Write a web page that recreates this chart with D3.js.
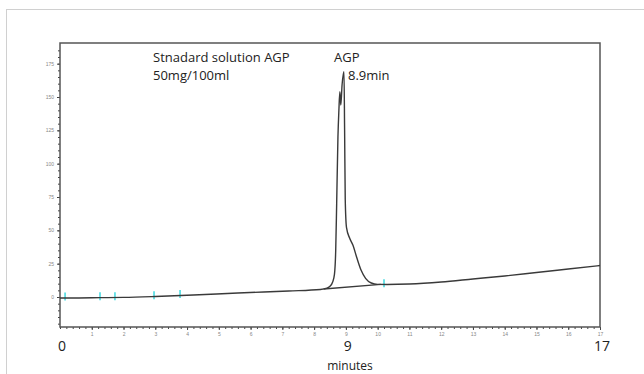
<!DOCTYPE html>
<html lang="en">
<title>AGP chromatogram</title>
<meta charset="UTF-8">
<style>
  body { margin: 0; background: #fff; }
  svg { display: block; font-family: "Open Sans", sans-serif; }
  .frame { fill: none; stroke: #555; stroke-width: 1.5; }
  .trace { fill: none; stroke: #3a3a3a; stroke-width: 1.4; }
  .tick line { stroke: #444; }
  .tick text { fill: #888; font-size: 5px; }
</style>
<script src="https://d3js.org/d3.v7.min.js"></script>
<body>
<svg width="644" height="374"></svg>
<script>
// retention time (minutes) and detector signal
var times  = [0, 0.5, 1.26, 2, 3, 4.2, 5.6, 7.2, 8.2, 8.4, 8.5, 8.58, 8.64, 8.68, 8.71, 8.75,
              8.78, 8.81, 8.84, 8.88, 8.94, 8.96, 8.98, 9.02, 9.12, 9.22, 9.35, 9.48, 9.62,
              9.8, 10.0, 10.3, 11, 12, 13, 14, 15, 16, 17];
var signal = [-0.7, -0.7, -0.5, -0.3, 0.4, 1.5, 3, 4.5, 5.6, 6.6, 8, 11, 17, 35, 70, 120,
              140, 154, 144, 159, 169, 125, 73, 52, 44, 39, 29, 20, 14,
              10.5, 9.5, 9.4, 9.75, 11.25, 13.5, 15.75, 18.4, 21, 23.6];
// integration baseline under the AGP peak
var baseTimes  = [8.3, 10.1];
var baseSignal = [6, 9.5];
// cyan event marks on the baseline
var eventTimes  = [0.16, 1.26, 1.73, 2.96, 3.78, 10.2];
var eventSignal = [-0.7, -0.5, -0.4, 0.4, 1.2, 9.4];
var yTicks = [0, 25, 50, 75, 100, 125, 150, 175];
var xTicks = d3.range(1, 18);
var bigLabels = [0, 9, 17];

var svg = d3.select("svg");

// light outer border of the picture
svg.append("rect")
    .attr("x", 6.5).attr("y", 9.5)
    .attr("width", 700).attr("height", 400)
    .style("fill", "none").style("stroke", "#d0d0d0");

var x = d3.scaleLinear().domain([0, 17]).range([60, 600]);
var y = d3.scaleLinear().domain([-22.5, 190.5]).range([327, 43]);

// minor ticks
svg.append("g")
    .attr("transform", "translate(0,327)")
    .call(d3.axisBottom(x).tickValues(d3.range(0, 17.01, 0.2)).tickSize(2).tickFormat(""))
    .call(g => g.select(".domain").remove());
svg.append("g")
    .attr("transform", "translate(60,0)")
    .call(d3.axisLeft(y).tickValues(d3.range(-20, 190, 5)).tickSize(2).tickFormat(""))
    .call(g => g.select(".domain").remove());

// major ticks with tiny labels
svg.append("g")
    .attr("transform", "translate(0,327)")
    .call(d3.axisBottom(x).tickValues(xTicks).tickSize(3).tickPadding(2))
    .call(g => g.select(".domain").remove());
svg.append("g")
    .attr("transform", "translate(60,0)")
    .call(d3.axisLeft(y).tickValues(yTicks).tickSize(3).tickPadding(3))
    .call(g => g.select(".domain").remove());

svg.append("rect")
    .attr("class", "frame")
    .attr("x", x(0)).attr("y", y(190.5))
    .attr("width", x(17) - x(0)).attr("height", y(-22.5) - y(190.5));

// event marks
svg.selectAll("line.event")
  .data(d3.zip(eventTimes, eventSignal))
  .enter()
  .append("line")
    .attr("class", "event")
    .attr("x1", d => x(d[0])).attr("x2", d => x(d[0]))
    .attr("y1", d => y(d[1] + 4)).attr("y2", d => y(d[1] - 2))
    .style("stroke", "#5ee0e6").style("stroke-width", 1.8);

var line = d3.line()
    .x(d => x(d[0]))
    .y(d => y(d[1]))
    .curve(d3.curveMonotoneX);

svg.append("path")
    .datum(d3.zip(baseTimes, baseSignal))
    .attr("class", "trace")
    .attr("d", d3.line().x(d => x(d[0])).y(d => y(d[1])));

svg.append("path")
    .datum(d3.zip(times, signal))
    .attr("class", "trace")
    .attr("d", line);

// annotations
var notes = svg.append("g").style("font-size", "13px").style("fill", "#222");
notes.append("text").attr("x", 153).attr("y", 62).text("Stnadard solution AGP");
notes.append("text").attr("x", 153).attr("y", 80).text("50mg/100ml");
notes.append("text").attr("x", 334).attr("y", 62).text("AGP");
notes.append("text").attr("x", 348).attr("y", 80).text("8.9min");

svg.selectAll("text.big")
  .data(bigLabels)
  .enter()
  .append("text")
    .attr("class", "big")
    .attr("x", d => x(d) + 2)
    .attr("y", 351)
    .attr("text-anchor", "middle")
    .style("font-size", "14px").style("fill", "#222")
    .text(d => d);

svg.append("text")
    .attr("x", 350).attr("y", 370)
    .attr("text-anchor", "middle")
    .style("font-size", "12px").style("fill", "#222")
    .text("minutes");
</script>
</body>
</html>
